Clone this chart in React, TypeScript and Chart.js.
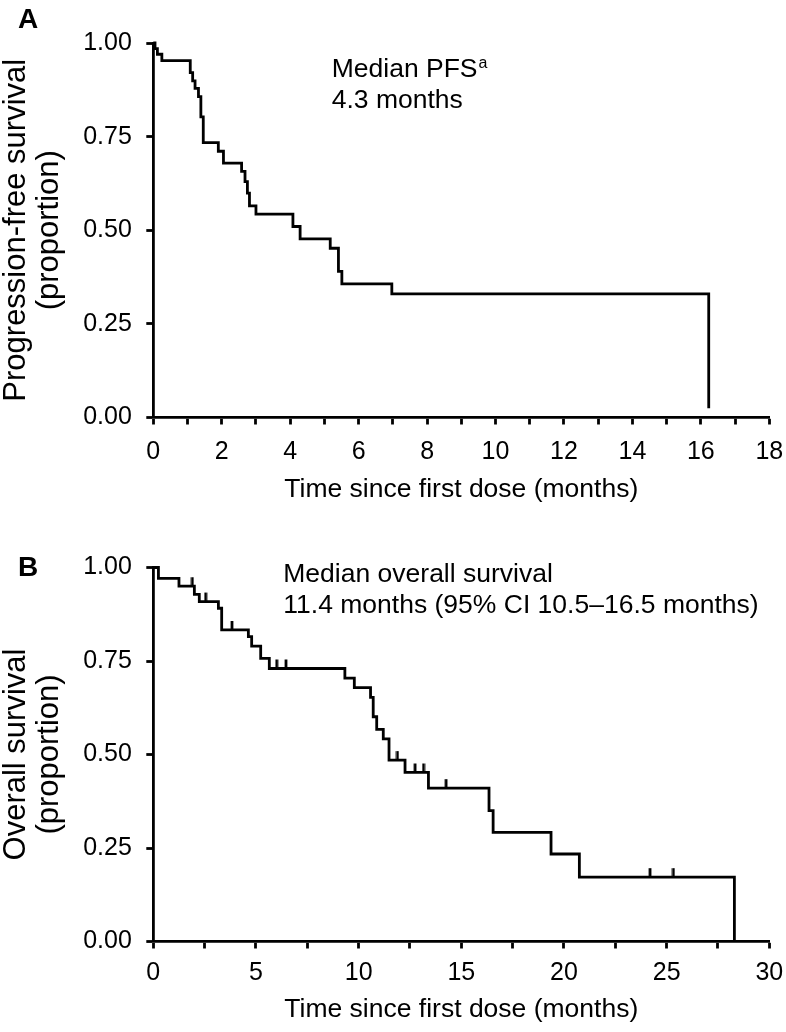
import { useEffect, useRef } from 'react';
import { Chart, registerables } from 'chart.js';

Chart.register(...registerables);

const FONT = "'Liberation Sans', Arial, Helvetica, sans-serif";

// Panel A: progression-free survival (Kaplan–Meier step drops)
const pfsTimes = [0, 0.05, 0.12, 0.25, 1.08, 1.15, 1.22, 1.32, 1.39, 1.46, 1.9, 2.05, 2.58, 2.68, 2.75, 2.81, 3.0, 4.08, 4.29, 5.17, 5.41, 5.51, 6.97, 16.23];
const pfsSurvival = [1.0, 0.985, 0.97, 0.953, 0.921, 0.899, 0.879, 0.857, 0.803, 0.734, 0.711, 0.679, 0.657, 0.63, 0.599, 0.565, 0.543, 0.51, 0.477, 0.452, 0.39, 0.357, 0.33, 0.025];
const pfsCensorTimes: number[] = [];

// Panel B: overall survival
const osTimes = [0, 0.25, 1.25, 2.0, 2.24, 3.17, 3.33, 4.63, 4.79, 5.23, 5.65, 9.33, 9.79, 10.58, 10.71, 10.88, 11.2, 11.48, 12.26, 13.4, 16.35, 16.55, 19.37, 20.75, 28.3];
const osSurvival = [1.0, 0.971, 0.95, 0.928, 0.909, 0.891, 0.833, 0.815, 0.79, 0.757, 0.73, 0.704, 0.679, 0.653, 0.601, 0.567, 0.542, 0.485, 0.452, 0.41, 0.35, 0.292, 0.234, 0.172, 0.0];
const osCensorTimes = [1.9, 2.55, 3.83, 6.01, 6.46, 11.89, 12.75, 13.16, 14.26, 24.19, 25.33];

const xTitle = 'Time since first dose (months)';
const pfsYTitle = ['Progression-free survival', '(proportion)'];
const osYTitle = ['Overall survival', '(proportion)'];
const pfsNote = ['Median PFS', '4.3 months'];
const osNote = ['Median overall survival', '11.4 months (95% CI 10.5–16.5 months)'];

const LINE_W = 2.8;

function stepData(times: number[], surv: number[]) {
  return times.map((t, i) => ({ x: t, y: surv[i] }));
}

function survivalAt(times: number[], surv: number[], t: number) {
  let s = surv[0];
  for (let i = 0; i < times.length; i++) {
    if (times[i] <= t) s = surv[i];
  }
  return s;
}

function makeCensorMark() {
  const c = document.createElement('canvas');
  c.width = 4;
  c.height = 20;
  const g = c.getContext('2d')!;
  g.fillStyle = '#000';
  g.fillRect(0.6, 1, 2.8, 9);
  return c;
}

const panelTextPlugin = {
  id: 'panelText',
  afterDraw(chart: any, _args: any, opts: any) {
    const ctx = chart.ctx;
    ctx.save();
    ctx.fillStyle = '#000';
    ctx.textBaseline = 'alphabetic';
    ctx.textAlign = 'left';
    ctx.font = `bold ${opts.letterSize}px ${FONT}`;
    ctx.fillText(opts.letter, opts.letterX, opts.letterY);
    (opts.lines as string[]).forEach((line, i) => {
      const y = opts.y + i * opts.dy;
      ctx.font = `${opts.size}px ${FONT}`;
      ctx.fillText(line, opts.x, y);
      if (i === 0 && opts.sup) {
        const w = ctx.measureText(line).width;
        ctx.font = `${opts.supSize}px ${FONT}`;
        ctx.fillText(opts.sup, opts.x + w + 1, y - opts.supRaise);
      }
    });
    ctx.restore();
  },
};

function buildConfig(p: any, mark: HTMLCanvasElement): any {
  const tickFont = { family: FONT, size: 25 };
  return {
    type: 'line',
    data: {
      datasets: [
        {
          data: stepData(p.times, p.surv),
          borderColor: '#000',
          borderWidth: LINE_W,
          stepped: 'before',
          pointRadius: 0,
          fill: false,
          clip: false,
        },
        {
          data: p.censor.map((t: number) => ({ x: t, y: survivalAt(p.times, p.surv, t) })),
          showLine: false,
          pointStyle: mark,
          pointRadius: 3,
          clip: false,
        },
      ],
    },
    options: {
      responsive: false,
      animation: false,
      events: [],
      layout: { padding: { left: 0, top: p.top, right: 16.7, bottom: 0 } },
      plugins: {
        legend: { display: false },
        tooltip: { enabled: false },
        panelText: p.text,
      },
      scales: {
        x: {
          type: 'linear',
          min: 0,
          max: p.xMax,
          afterFit(s: any) {
            s.height = p.xAxisH;
            s.paddingLeft = 0;
            s.paddingRight = 0;
          },
          ticks: {
            stepSize: p.xStep,
            autoSkip: false,
            maxRotation: 0,
            minRotation: 0,
            color: '#000',
            font: tickFont,
            padding: p.xPad,
            callback: (v: any) => (Math.abs(Number(v) % p.xLabelEvery) < 1e-6 ? String(v) : ''),
          },
          grid: { drawOnChartArea: false, drawTicks: true, tickLength: 7, tickWidth: LINE_W, tickColor: '#000' },
          border: { display: true, color: '#000', width: LINE_W },
          title: {
            display: true,
            text: xTitle,
            color: '#000',
            font: { family: FONT, size: 26.5, lineHeight: 1.2 },
            padding: { top: 0, bottom: p.xTitlePad },
          },
        },
        y: {
          type: 'linear',
          min: 0,
          max: 1,
          afterFit(s: any) {
            s.width = 153.3;
            s.paddingTop = 0;
            s.paddingBottom = 0;
          },
          ticks: {
            stepSize: 0.25,
            color: '#000',
            font: tickFont,
            padding: 14.5,
            callback: (v: any) => Number(v).toFixed(2),
          },
          grid: { drawOnChartArea: false, drawTicks: true, tickLength: 7, tickWidth: LINE_W, tickColor: '#000' },
          border: { display: true, color: '#000', width: LINE_W },
          title: {
            display: true,
            text: p.yTitle,
            color: '#000',
            font: { family: FONT, size: 31, lineHeight: 1.05 },
            padding: { top: 0.3, bottom: 0 },
          },
        },
      },
    },
    plugins: [panelTextPlugin],
  };
}

export default function App() {
  const refA = useRef<HTMLCanvasElement>(null);
  const refB = useRef<HTMLCanvasElement>(null);

  useEffect(() => {
    const mark = makeCensorMark();
    const a = new Chart(
      refA.current!,
      buildConfig(
        {
          times: pfsTimes,
          surv: pfsSurvival,
          censor: pfsCensorTimes,
          top: 43,
          xMax: 18,
          xStep: 1,
          xLabelEvery: 2,
          xAxisH: 106.5,
          xPad: 12.5,
          xTitlePad: 18.6,
          yTitle: pfsYTitle,
          text: {
            letter: 'A', letterX: 18, letterY: 28, letterSize: 28,
            lines: pfsNote, x: 331.7, y: 76.7, dy: 31.6, size: 26.5,
            sup: 'a', supSize: 16, supRaise: 9,
          },
        },
        mark
      )
    );
    const b = new Chart(
      refB.current!,
      buildConfig(
        {
          times: osTimes,
          surv: osSurvival,
          censor: osCensorTimes,
          top: 43.5,
          xMax: 30,
          xStep: 2.5,
          xLabelEvery: 5,
          xAxisH: 90.5,
          xPad: 10,
          xTitlePad: 6,
          yTitle: osYTitle,
          text: {
            letter: 'B', letterX: 18, letterY: 52, letterSize: 28,
            lines: osNote, x: 283.3, y: 57.7, dy: 31.6, size: 26.5,
            sup: '', supSize: 16, supRaise: 9,
          },
        },
        mark
      )
    );
    return () => {
      a.destroy();
      b.destroy();
    };
  }, []);

  return (
    <div style={{ position: 'absolute', left: 0, top: 0, width: 786, height: 1032, background: '#fff' }}>
      <canvas ref={refA} width={786} height={524} style={{ display: 'block', width: 786, height: 524 }} />
      <canvas ref={refB} width={786} height={508} style={{ display: 'block', width: 786, height: 508 }} />
    </div>
  );
}
